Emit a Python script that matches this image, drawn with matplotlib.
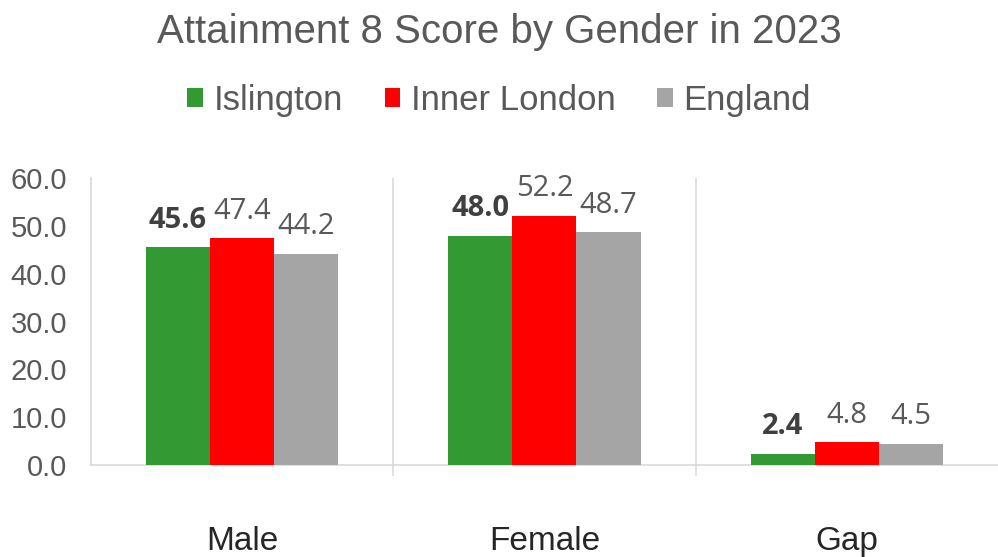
import numpy as np
import matplotlib
matplotlib.use("Agg")
import matplotlib.pyplot as plt
from matplotlib.patches import Patch

categories = ["Male", "Female", "Gap"]
series_names = ["Islington", "Inner London", "England"]
islington = [45.6, 48.0, 2.4]
inner_london = [47.4, 52.2, 4.8]
england = [44.2, 48.7, 4.5]
y_ticks = [0, 10, 20, 30, 40, 50, 60]

colors = ["#339933", "#FF0000", "#A5A5A5"]
label_colors = ["#404040", "#595959", "#595959"]
label_weights = ["bold", "normal", "normal"]
text_grey = "#595959"
line_grey = "#D9D9D9"

plt.rcParams["font.family"] = ["Liberation Sans", "DejaVu Sans"]

fig = plt.figure(figsize=(9.98, 5.57), dpi=100)
ax = fig.add_axes([0.091, 0.165, 0.909, 0.515])

x = np.arange(len(categories))
width = 0.212
all_series = [islington, inner_london, england]
for i, vals in enumerate(all_series):
    pos = x + (i - 1) * width
    ax.bar(pos, vals, width, color=colors[i], zorder=3)
    for px, v in zip(pos, vals):
        ax.annotate(f"{v:.1f}", (px, v), xytext=(0, 9), textcoords="offset points",
                    ha="center", va="bottom", fontsize=21, color=label_colors[i],
                    fontweight=label_weights[i], family=["Open Sans", "DejaVu Sans"])

ax.set_xlim(-0.5, 2.5)
ax.set_ylim(0, 60)
ax.set_yticks(y_ticks)
ax.set_yticklabels([f"{t:.1f}" for t in y_ticks])
ax.tick_params(axis="y", length=0, pad=17, labelsize=21, labelcolor=text_grey)
ax.set_xticks(x)
ax.set_xticklabels(categories)
ax.tick_params(axis="x", which="major", length=0, pad=44, labelsize=24, labelcolor="#262626")
ax.set_xticks([0.5, 1.5], minor=True)
ax.tick_params(axis="x", which="minor", length=8, width=1.2, color=line_grey)

for sep in [0.5, 1.5]:
    ax.axvline(sep, color=line_grey, lw=1.2, zorder=1)

for s in ["top", "right"]:
    ax.spines[s].set_visible(False)
for s in ["left", "bottom"]:
    ax.spines[s].set_color(line_grey)
    ax.spines[s].set_linewidth(1.2)

fig.text(0.5, 0.943, "Attainment 8 Score by Gender in 2023", ha="center", va="center",
         fontsize=29, color=text_grey)

handles = [Patch(facecolor=c, edgecolor="none") for c in colors]
fig.legend(handles, series_names, loc="center", bbox_to_anchor=(0.5, 0.82), ncol=3,
           frameon=False, fontsize=25, labelcolor=text_grey, handlelength=0.45,
           handleheight=0.45, handletextpad=0.3, columnspacing=1.2)

fig.savefig("out.png", dpi=100)
